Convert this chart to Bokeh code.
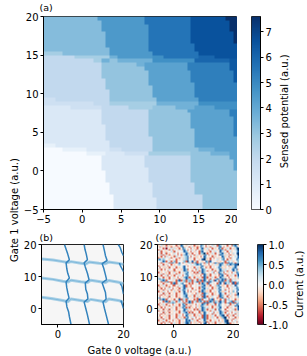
import re
import numpy as np
from bokeh.embed import file_html
from bokeh.layouts import column, row
from bokeh.models import FixedTicker, LinearColorMapper, NumeralTickFormatter, Label, Range1d, Title
from bokeh.palettes import Blues256, RdBu11
from bokeh.plotting import figure
from bokeh.resources import INLINE

FONT = "DejaVu Sans"
TXT = "10px"

# (a) sensed potential: levels
POTENTIAL_LEVELS = {"a": 0.05, "b": 0.6, "c": 1.1, "d": 1.6, "e": 2.0, "f": 2.65, "g": 3.05, "h": 3.7,
                    "i": 4.2, "j": 4.8, "k": 5.3, "l": 6.0, "m": 6.4, "p": 3.3, "q": 4.5, "r": 5.6,
                    "s": 6.6, "n": 7.6}
# run-length rows, top row first, 50 cells per row
POTENTIAL_ROWS = [
    "p14 q12 r12 s9 n3", "p15 q11 r12 s10 n2", "p15 q12 r11 s10 n2", "p15 q12 r11 s10 n2",
    "p16 q11 r11 s11 n1", "p16 q11 r11 s11 n1", "p16 q11 r11 s11 n1", "p16 q11 r12 s11",
    "p17 q10 r12 s11", "f5 p12 q11 r12 s10", "e8 f9 h2 q9 j3 r9 l4 s6",
    "e13 f2 h2 g2 h9 j11 l9 m2", "e15 g9 h2 i11 k11 m2", "e15 g11 i11 k11 m2",
    "e15 g12 i11 k11 m1", "e15 g12 i11 k11 m1", "e16 g11 i11 k11 m1", "e16 g11 i12 k11",
    "e16 g12 i11 k11", "e17 g11 i11 k11", "e17 g11 i11 k11", "d3 e14 g12 i11 k10",
    "d13 e4 f12 h11 j10", "c7 d8 e7 f6 g6 h5 i5 j6", "c15 e12 g10 i11 k2", "c15 e12 g11 i10 k2",
    "c15 e12 g11 i11 k1", "c15 e12 g11 i11 k1", "c16 e11 g11 i11 k1", "c16 e11 g12 i10 k1",
    "c16 e11 g12 i10 k1", "c16 e12 g11 i11", "c17 e11 g11 i11", "b3 c14 e11 g11 i11",
    "a5 b6 c6 d3 e8 g12 h4 i6", "a11 b5 c5 d6 f11 g5 h5 i2", "a15 c11 e12 g10 i2",
    "a15 c11 e12 g11 i1", "a15 c11 e12 g11 i1", "a15 c12 e11 g11 i1", "a16 c11 e11 g12",
    "a16 c11 e11 g12", "a16 c11 e11 g12", "a17 c11 e11 g11", "a17 c11 e11 g11", "a17 c11 e11 g11",
    "a18 c10 e13 g9", "a18 c11 e12 g9", "a18 c11 e12 g9", "a18 c11 e12 g9",
]

# (b) transition traces, in a.u.
STEEP_X = [
    [2, 2.5, 3, 3.5, 2.5, 2.7, 3, 3.5, 2.5, 2.7, 3, 3.4, 2.5, 2.75, 3.25, 3.5, 4],
    [8, 8.25, 8.65, 9, 8, 8.35, 9, 9.5, 8.35, 8.5, 9, 9.15, 8, 8.5, 9, 9.65],
    [13.75, 14.2, 14.5, 15, 13.5, 14, 14.5, 14.85, 13.5, 14, 14.5, 14.7, 13.75, 14.2, 14.7, 15.45],
    [18.4, 19, 19.5, 20], [18.75, 19, 19.5, 20], [19, 19.5, 20], [19.2, 19.7, 20],
]
STEEP_Y = [
    [20, 18.5, 17, 15.25, 14.25, 12.5, 11, 9.5, 8.25, 6.5, 5, 3.25, 2.25, .5, -1, -2.5, -5],
    [20, 18.5, 17, 15.25, 14.25, 13, 11, 9, 8, 6, 4.5, 3, 2, 0, -2, -5],
    [20, 18, 16.5, 15, 14, 12.5, 10.5, 9, 8, 6.5, 5, 3, 2, 0, -2, -5],
    [20, 19, 17.5, 16.5], [14.25, 13.5, 12.5, 11.5], [7.75, 7, 4.5], [2.5, 1, 0],
]
SHALLOW_X = [
    [-5, -1.5, 1.5, 3, 4, 7, 8.5, 9.5, 12.5, 14.5, 15.5, 18.5, 20],
    [-5, -1.5, 1.5, 3, 4, 7, 9, 10, 13, 14.5, 15.5, 18.5, 20],
    [-5, -2, 1.5, 3, 4, 7, 9, 10, 13, 14.5, 15.5, 18.5, 20],
]
SHALLOW_Y = [
    [15.5, 15.15, 14.65, 14.4, 14.65, 14.15, 13.9, 14.5, 14.15, 14, 14.5, 14.1, 13.75],
    [9.5, 9.1, 8.5, 8.25, 8.85, 8.35, 8.1, 8.85, 8.35, 8.15, 8.75, 8.2, 7.75],
    [3.5, 3.1, 2.5, 2.1, 3, 2.5, 2.15, 2.85, 2.35, 2.1, 3, 2.5, 2],
]

# (c) current: one digit per cell, mapped through CURRENT_SCALE, top row first
CURRENT_SCALE = [-1.0, -0.9, -0.6, -0.22, -0.03, 0.06, 0.22, 0.42, 0.8, 1.0]
CURRENT_ROWS = [
    "3463525334 4253874354 3425348742 5346352874 3525427863",
    "5234636425 3524793452 4635238652 3425463785 2436354785",
    "4352514363 6342487435 2534257834 6352434872 5364253689",
    "2635346252 4536378524 3642537743 5246353487 4253534679",
    "4625335463 2534568734 2536427845 3425364386 3524634578",
    "3524625343 6425346873 5243526794 2536425378 6352436489",
    "5362435246 3524257846 3524635378 5243534287 4635243569",
    "3425263534 2635346784 2536342587 4352635348 7352534658",
    "2536345624 5342536783 6425346387 3524253637 8435264578",
    "7867645343 5243536784 3524534896 3425346357 8425364587",
    "4568725624 7254467296 5837245348 7285453534 7267563467",
    "3524456278 6238526467 5278237626 7256287278 5228786267",
    "4352536424 3467544354 6567878536 4253563787 4376877889",
    "2536342534 6345478524 5346457834 3425345784 6342534873",
    "5243635243 5243578534 3524638752 3425346873 5346357864",
    "3524253643 2435368724 4352635874 5342535786 3653478683",
    "4635342536 2343568735 5243525874 2536425387 3624358674",
    "2534635243 6342536784 3524263875 5346253876 2536425387",
    "5362435253 4253536875 5342635287 3425364287 5243536478",
    "3425362534 2536425784 4635342587 3624534278 3425364258",
    "6352435246 3524357872 3524635287 2536423587 6342535347",
    "7867534253 6342535876 2435263587 3524358768 7835246353",
    "5378726453 5278267267 7265278287 5276286278 7267275654",
    "3425278226 7256457267 6267826276 8286546287 2767278267",
    "4352534527 8265784352 4253524874 2865342785 2867528287",
    "2536425342 2536478243 2543563785 3624537863 3425364875",
    "5243635253 4325678253 2453425873 5342536784 3524536486",
    "3524253642 5342578634 5243524785 6342536874 6352435687",
    "6342536425 3425687524 5362435874 3425346785 5243536478",
    "2536342534 6342578425 2534526873 3524635873 3642537486",
    "4352635243 5243568734 5342635287 6342534786 5243635379",
    "3624253536 4253467835 3625342785 4352635287 5362435288",
    "5243536253 4253467843 3524635287 2536453287 3425364357",
    "7856342534 5342536784 4635243787 5246352478 3652435346",
    "5278726534 2538276275 3425287256 5278253424 7267534253",
    "3452787267 6267526268 7267278627 2787276286 7256782756",
    "4253452778 7345672678 7256534287 8265286786 5278278267",
    "2536425342 5342587243 6342536875 2536425874 5346253687",
    "5243635243 6342578536 2453638743 5342536874 5362435879",
    "3524253536 4253687242 5342536874 6342536785 3425364368",
    "6342536253 4253468763 3524263875 2536425874 5243536258",
    "2536342534 6342578425 2534526874 3425364786 3524635343",
    "4352635243 5342567842 5243526387 5346253687 4253524636",
    "3624253536 4253425786 3625342587 4352635487 5362435243",
    "5243536253 4236425873 3425364287 2536425378 9425362536",
    "3524635243 5246342785 3652435287 2436352437 8952435253",
    "6352435246 3524636875 4253524687 2435346353 7835362534",
    "2536425342 5342534878 4635243587 3524635243 6893524634",
    "4352536243 5352536887 2536425379 2536425363 5893536426",
    "3524253524 6342536897 2436352489 5243524635 3798243534",
]

MAIN_TICKS = [-5, 0, 5, 10, 15, 20]
SMALL_X_TICKS = [0, 20]
SMALL_Y_TICKS = [0, 10, 20]
POTENTIAL_TICKS = [0, 1, 2, 3, 4, 5, 6, 7]
CURRENT_TICKS = [-1, -0.5, 0, 0.5, 1]
POTENTIAL_MAX = 7.6

potential = np.array(
    [[POTENTIAL_LEVELS[c] for c, n in re.findall(r"([a-z])(\d+)", rr) for _ in range(int(n))]
     for rr in POTENTIAL_ROWS])[::-1]
current = np.array([[CURRENT_SCALE[int(c)] for c in rr.replace(" ", "")] for rr in CURRENT_ROWS])[::-1]

# RdBu continuous palette, red at the low end
_rgb = np.array([[int(h[i:i + 2], 16) for i in (1, 3, 5)] for h in list(RdBu11)[::-1]], float)
_t = np.linspace(0, 1, 256)
RDBU = ["#%02x%02x%02x" % tuple(int(round(np.interp(t, np.linspace(0, 1, 11), _rgb[:, k]))) for k in range(3)) for t in _t]
BLUES = list(Blues256)[::-1]

blue_map = LinearColorMapper(palette=BLUES, low=0, high=POTENTIAL_MAX)
red_map = LinearColorMapper(palette=RDBU, low=-1, high=1)


def style(p, xt, yt):
    for ax in (p.xaxis, p.yaxis):
        ax.major_label_text_font = FONT
        ax.major_label_text_font_size = TXT
        ax.major_label_text_color = "#000000"
        ax.major_tick_in = 0
        ax.major_tick_out = 3
        ax.minor_tick_out = 0
        ax.minor_tick_in = 0
        ax.major_label_standoff = 2
        ax.axis_line_color = "#000000"
        ax.major_tick_line_color = "#000000"
    if xt:
        p.xaxis.ticker = FixedTicker(ticks=xt)
        p.xaxis.major_label_overrides = {t: str(t).replace("-", "\u2212") for t in xt}
    if yt:
        p.yaxis.ticker = FixedTicker(ticks=yt)
        p.yaxis.major_label_overrides = {t: str(t).replace("-", "\u2212") for t in yt}
    p.grid.visible = False
    p.outline_line_color = "#222222"
    p.outline_line_width = 1
    p.background_fill_color = None
    p.border_fill_color = None


def panel(w, h, left, right, top, bottom, xr=(-5, 20), yr=(-5, 20)):
    p = figure(width=w, height=h, min_border_left=left, min_border_right=right, min_border_top=top,
               min_border_bottom=bottom, x_range=Range1d(*xr), y_range=Range1d(*yr),
               toolbar_location=None, output_backend="svg", tools="")
    return p


def tag(p, s, offset, standoff, valign="bottom"):
    p.title = Title(text=s, align="left", offset=offset, standoff=standoff, text_font=FONT, text_font_size="9.5px",
                    text_font_style="normal", text_color="#000000", vertical_align=valign)


def strip(w, h, s, x, y, angle):
    p = figure(width=w, height=h, min_border=0, x_range=Range1d(0, 1), y_range=Range1d(0, 1),
               toolbar_location=None, output_backend="svg", tools="")
    p.xaxis.visible = False
    p.yaxis.visible = False
    p.grid.visible = False
    p.outline_line_color = None
    p.add_layout(Label(x=x, y=y, text=s, text_font=FONT, text_font_size=TXT, text_color="#000000",
                       text_align="center", text_baseline="middle", angle=angle))
    return p


# (a)
pa = panel(217, 228, 21, 0, 14, 19)
pa.image(image=[potential], x=-5, y=-5, dw=25, dh=25, color_mapper=blue_map)
style(pa, MAIN_TICKS, MAIN_TICKS)
tag(pa, "(a)", -4, 3, "top")

# colour bar (a)
ca = figure(width=41, height=228, min_border_left=14, min_border_right=18, min_border_top=14, min_border_bottom=19,
            x_range=Range1d(0, 1), y_range=Range1d(0, POTENTIAL_MAX), y_axis_location="right",
            toolbar_location=None, output_backend="svg", tools="")
ca.image(image=[np.linspace(0, POTENTIAL_MAX, 256).reshape(-1, 1)], x=0, y=0, dw=1, dh=POTENTIAL_MAX, color_mapper=blue_map)
style(ca, None, POTENTIAL_TICKS)
ca.xaxis.visible = False
sa = strip(29, 228, "Sensed potential (a.u.)", 0.2, 0.509, np.pi / 2)

# (b)
pb = panel(114, 112, 21, 11, 14, 16)
pb.multi_line(SHALLOW_X, SHALLOW_Y, line_color="#a9d0e6", line_width=3.0)
pb.multi_line(SHALLOW_X, SHALLOW_Y, line_color="#74b3d8", line_width=0.8)
pb.multi_line(STEEP_X, STEEP_Y, line_color="#3383bd", line_width=1.5)
style(pb, SMALL_X_TICKS, SMALL_Y_TICKS)
pb.background_fill_color = "#f6f6f6"
tag(pb, "(b)", -2, 3)

# (c)
pc = panel(105, 112, 23, 0, 14, 16)
pc.image(image=[current], x=-5, y=-5, dw=25, dh=25, color_mapper=red_map)
style(pc, SMALL_X_TICKS, SMALL_Y_TICKS)
tag(pc, "(c)", -2, 3)

# colour bar (c)
cc = figure(width=52, height=112, min_border_left=18, min_border_right=26, min_border_top=14, min_border_bottom=16,
            x_range=Range1d(0, 1), y_range=Range1d(-1, 1), y_axis_location="right",
            toolbar_location=None, output_backend="svg", tools="")
cc.image(image=[np.linspace(-1, 1, 256).reshape(-1, 1)], x=0, y=-1, dw=1, dh=2, color_mapper=red_map)
style(cc, None, None)
cc.yaxis.ticker = FixedTicker(ticks=CURRENT_TICKS)
cc.yaxis.formatter = NumeralTickFormatter(format="0.0")
cc.xaxis.visible = False
sc = strip(16, 112, "Current (a.u.)", 0.5, 0.504, np.pi / 2)

ylab = strip(20, 356, "Gate 1 voltage (a.u.)", 0.7, 0.4115, np.pi / 2)
xlab = strip(287, 16, "Gate 0 voltage (a.u.)", 119 / 287, 0.35, 0)

root = row(ylab, column(row(pa, ca, sa, spacing=0), row(pb, pc, cc, sc, spacing=0), xlab, spacing=0), spacing=0)

open("out.html", "w").write(file_html(root, INLINE))
